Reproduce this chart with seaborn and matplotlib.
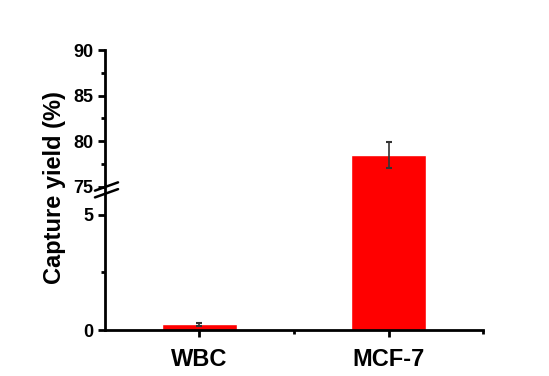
import seaborn as sns
import matplotlib.pyplot as plt
import numpy as np

# dados
amostras = ["WBC", "MCF-7"]
rendimento = [0.25, 78.5]
erro = [0.05, 1.4]

sns.set_style("ticks")
plt.rcParams['font.family'] = ['Liberation Sans', 'DejaVu Sans']
plt.rcParams['font.weight'] = 'bold'
plt.rcParams['text.color'] = 'black'
plt.rcParams['xtick.color'] = 'black'
plt.rcParams['ytick.color'] = 'black'
plt.rcParams['axes.edgecolor'] = 'black'

fig = plt.figure(figsize=(5.49, 3.76), dpi=100)
ax_cima = fig.add_axes([0.191, 0.5027, 0.689, 0.3643])
ax_baixo = fig.add_axes([0.191, 0.122, 0.689, 0.3807])

for ax in (ax_cima, ax_baixo):
    sns.barplot(x=amostras, y=rendimento, ax=ax, color="#ff0000", width=0.4,
                saturation=1, errorbar=None)
    ax.errorbar(range(len(amostras)), rendimento, yerr=erro, fmt='none',
                ecolor='#333333', elinewidth=1.2, capsize=2.5, capthick=1.5)
    ax.set_xlim(-0.5, 1.5)
    for lado in ['top', 'right']:
        ax.spines[lado].set_visible(False)
    ax.spines['left'].set_linewidth(2)
    ax.spines['bottom'].set_linewidth(2)
    ax.tick_params(axis='both', which='major', width=2, length=5, labelsize=13)
    ax.tick_params(axis='both', which='minor', width=2, length=3)
    ax.set_ylabel("")

# eixo de cima: 75 a 90
ax_cima.set_ylim(75, 90)
ax_cima.set_yticks([75, 80, 85, 90])
ax_cima.set_yticks([77.5, 82.5, 87.5], minor=True)
ax_cima.spines['bottom'].set_visible(False)
ax_cima.set_xticks([])
ax_cima.tick_params(axis='x', which='both', bottom=False, labelbottom=False)

# eixo de baixo: 0 a ~6
ax_baixo.set_ylim(0, 6.2)
ax_baixo.set_yticks([0, 5])
ax_baixo.set_yticks([2.5], minor=True)
ax_baixo.set_xticks([0, 1])
ax_baixo.set_xticks([0.5, 1.5], minor=True)
ax_baixo.set_xticklabels(amostras, fontsize=17, fontweight='bold')
ax_baixo.tick_params(axis='x', pad=8)
for rotulo in ax_cima.get_yticklabels() + ax_baixo.get_yticklabels():
    rotulo.set_fontweight('bold')

# marca de quebra do eixo
for dy in [0.0, 0.018]:
    fig.add_artist(plt.Line2D([0.173, 0.215], [0.493 - dy, 0.515 - dy],
                              color='black', lw=1.8, transform=fig.transFigure))

fig.text(0.1, 0.50, "Capture yield (%)", rotation=90, ha='center', va='center',
         fontsize=17, fontweight='bold')

plt.savefig("out.png", dpi=100)
